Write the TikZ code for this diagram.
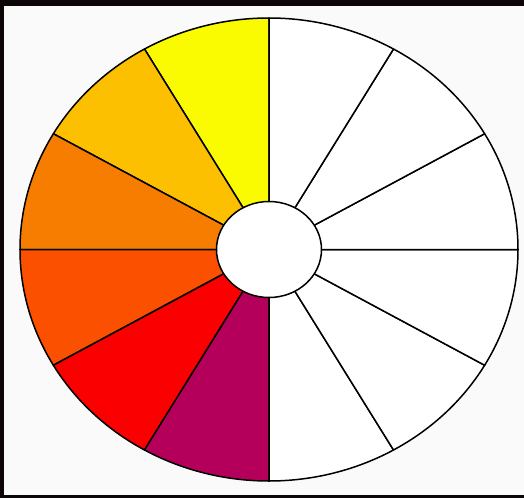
\documentclass[tikz,border=0pt]{standalone}
\usepackage{tikz}

\definecolor{paper}{HTML}{FAFAFA}
\definecolor{frame}{HTML}{0E0606}
\definecolor{wheelYellow}{HTML}{FAFA00}
\definecolor{wheelAmber}{HTML}{FCC000}
\definecolor{wheelOrange}{HTML}{F77D00}
\definecolor{wheelVermilion}{HTML}{FA5000}
\definecolor{wheelRed}{HTML}{FA0000}
\definecolor{wheelMagenta}{HTML}{B4005A}

\begin{document}
\begin{tikzpicture}[x=1pt,y=1pt,
  wedge/.style={draw=black, line width=1.5pt, line join=round}]
\useasboundingbox (-269,-248.5) rectangle (255,249.5);
% frame and paper
\fill[frame] (-269,243.5) rectangle (255,249.5);
\fill[frame] (-269,-248.5) rectangle (-265,249.5);
\fill[frame] (-269,-248.5) rectangle (255,-245.5);
\fill[paper] (-265,-245.5) rectangle (255,243.5);
% twelve sectors of the wheel
\foreach \a/\c in {90/wheelYellow, 120/wheelAmber, 150/wheelOrange,
                   180/wheelVermilion, 210/wheelRed, 240/wheelMagenta,
                   270/white, 300/white, 330/white, 0/white, 30/white, 60/white}
  \filldraw[wedge, fill=\c] (0,0) -- (\a:249 and 231.5)
    arc[start angle=\a, delta angle=30, x radius=249, y radius=231.5] -- cycle;
% hub
\filldraw[wedge, fill=white] (0,0) ellipse [x radius=52.5, y radius=48];
\end{tikzpicture}
\end{document}
